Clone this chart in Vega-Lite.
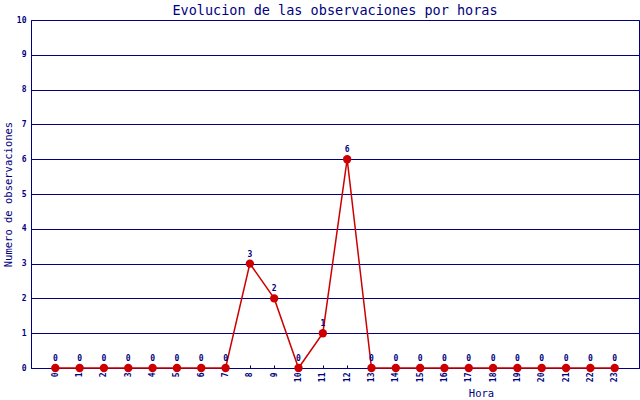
{
  "$schema": "https://vega.github.io/schema/vega-lite/v6.json",
  "autosize": "none",
  "padding": {"left": 31, "top": 20, "right": 1, "bottom": 32},
  "width": 608,
  "height": 348,
  "background": "white",
  "config": {
    "view": {"stroke": "#000080", "strokeWidth": 1},
    "font": "DejaVu Sans Mono"
  },
  "title": {
    "text": "Evolucion de las observaciones por horas",
    "font": "DejaVu Sans Mono",
    "fontSize": 13.5,
    "fontWeight": "normal",
    "color": "#000080",
    "anchor": "middle",
    "frame": "group",
    "offset": 4,
    "dy": 5
  },
  "data": {
    "values": [
      {"hora": 0, "obs": 0}, {"hora": 1, "obs": 0}, {"hora": 2, "obs": 0},
      {"hora": 3, "obs": 0}, {"hora": 4, "obs": 0}, {"hora": 5, "obs": 0},
      {"hora": 6, "obs": 0}, {"hora": 7, "obs": 0}, {"hora": 8, "obs": 3},
      {"hora": 9, "obs": 2}, {"hora": 10, "obs": 0}, {"hora": 11, "obs": 1},
      {"hora": 12, "obs": 6}, {"hora": 13, "obs": 0}, {"hora": 14, "obs": 0},
      {"hora": 15, "obs": 0}, {"hora": 16, "obs": 0}, {"hora": 17, "obs": 0},
      {"hora": 18, "obs": 0}, {"hora": 19, "obs": 0}, {"hora": 20, "obs": 0},
      {"hora": 21, "obs": 0}, {"hora": 22, "obs": 0}, {"hora": 23, "obs": 0}
    ]
  },
  "encoding": {
    "x": {
      "field": "hora",
      "type": "ordinal",
      "scale": {"type": "point", "padding": 1},
      "axis": {
        "title": "Hora",
        "titleFont": "DejaVu Sans Mono",
        "titleFontSize": 10.5,
        "titleFontWeight": "normal",
        "titleColor": "#000080",
        "titleX": 450,
        "titleY": 25,
        "titleBaseline": "middle",
        "titleAnchor": "middle",
        "labelAngle": -90,
        "labelFont": "DejaVu Sans Mono",
        "labelFontSize": 8,
        "labelFontWeight": "bold",
        "labelColor": "#000080",
        "labelPadding": 7,
        "tickSize": -3,
        "tickColor": "#000080",
        "domainColor": "#000080",
        "grid": false
      }
    },
    "y": {
      "field": "obs",
      "type": "quantitative",
      "scale": {"domain": [0, 10], "nice": false},
      "axis": {
        "title": "Numero de observaciones",
        "titleFont": "DejaVu Sans Mono",
        "titleFontSize": 10.5,
        "titleFontWeight": "normal",
        "titleColor": "#000080",
        "titlePadding": 3,
        "values": [0, 1, 2, 3, 4, 5, 6, 7, 8, 9, 10],
        "labelFont": "DejaVu Sans Mono",
        "labelFontSize": 8,
        "labelFontWeight": "bold",
        "labelColor": "#000080",
        "labelPadding": 5,
        "tickSize": 0,
        "domainColor": "#000080",
        "grid": true,
        "gridColor": "#000080",
        "gridOpacity": 1,
        "gridWidth": 1
      }
    }
  },
  "layer": [
    {"mark": {"type": "line", "color": "#cc0000", "strokeWidth": 1.5}},
    {"mark": {"type": "point", "filled": true, "color": "#cc0000", "size": 70, "opacity": 1}},
    {
      "mark": {"type": "text", "dy": -5, "color": "#000080", "fontSize": 8, "fontWeight": "bold", "font": "DejaVu Sans Mono", "baseline": "bottom"},
      "encoding": {"text": {"field": "obs", "type": "quantitative"}}
    }
  ]
}
